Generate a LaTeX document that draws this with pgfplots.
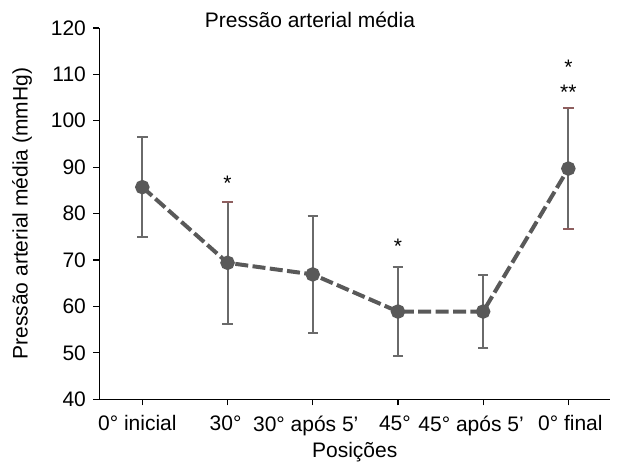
\documentclass[border=0pt]{standalone}
\usepackage{pgfplots}
\pgfplotsset{compat=1.18}
\usepackage{fontspec}
\setmainfont{Liberation Sans}
\definecolor{lc}{HTML}{595959}
\definecolor{ec}{HTML}{6A6A6A}
\definecolor{rc}{HTML}{8E5E5E}
\begin{document}
\fontsize{10.5pt}{12.6pt}\selectfont
\begin{tikzpicture}
\begin{axis}[
  scale only axis,
  width=255.4pt, height=185.7pt,
  xmin=-0.505, xmax=5.49,
  ymin=40, ymax=120,
  ytick={40,50,...,120},
  xtick={0,1,2,3,4,5},
  xticklabels={0° inicial\hspace*{5pt},30°\hspace*{2pt},30° após 5{\char"0027}\hspace*{7pt},45°\hspace*{3pt},45° após 5{\char"0027}\hspace*{12pt},\hspace*{2pt}0° final},
  axis x line*=bottom,
  axis y line*=left,
  axis line style={black, line width=0.6pt, -},
  tick align=outside,
  major tick length=3pt,
  tick style={black, line width=0.6pt},
  /pgf/number format/assume math mode=true,
  ticklabel style={font=\fontsize{10.5pt}{12.6pt}\selectfont},
  xticklabel style={yshift=-1.5pt},
  xlabel={Posições},
  ylabel={Pressão arterial média (mmHg)},
  xlabel style={at={(axis description cs:0.5,0)}, anchor=center, yshift=-26.5pt, font=\fontsize{10.5pt}{12.6pt}\selectfont},
  ylabel style={at={(axis description cs:-0.1511,0.5)}, anchor=center, font=\fontsize{10.5pt}{12.6pt}\selectfont},
  clip=false,
]
\addplot[color=lc, line width=2pt, dash pattern=on 6.5pt off 2.2pt,
  mark=*, mark size=2.6pt, mark options={solid, fill=lc, draw=lc},
  error bars/.cd, y dir=both, y explicit,
  error bar style={color=ec, line width=1pt, solid},
  error mark options={color=ec, line width=1pt, mark size=2.6pt, rotate=90, solid}]
  coordinates {
  (0,85.7) +- (0,10.8)
  (1,69.4) +- (0,13.2)
  (2,66.9) +- (0,12.6)
  (3,58.9) +- (0,9.6)
  (4,58.9) +- (0,7.9)
  (5,89.7) +- (0,13.0)
  };
\addplot[only marks, mark=-, mark size=2.6pt, mark options={color=rc, line width=1pt}]
  coordinates {(1,82.6) (5,102.7) (5,76.7)};
\node[font=\fontsize{10.5pt}{12.6pt}\selectfont] at (axis cs:1,86.5) {*};
\node[font=\fontsize{10.5pt}{12.6pt}\selectfont] at (axis cs:3,73.0) {*};
\node[font=\fontsize{10.5pt}{12.6pt}\selectfont] at (axis cs:5,106.1) {**};
\node[font=\fontsize{10.5pt}{12.6pt}\selectfont] at (axis cs:5,111.5) {*};
\node[font=\fontsize{10.5pt}{12.6pt}\selectfont, anchor=center] at ([xshift=105.35pt, yshift=4pt]current axis.north west) {Pressão arterial média};
\end{axis}
\pgfresetboundingbox
\path ([xshift=-49.65pt, yshift=-32.35pt]current axis.south west) rectangle ++(308.5pt,232pt);
\end{tikzpicture}
\end{document}
